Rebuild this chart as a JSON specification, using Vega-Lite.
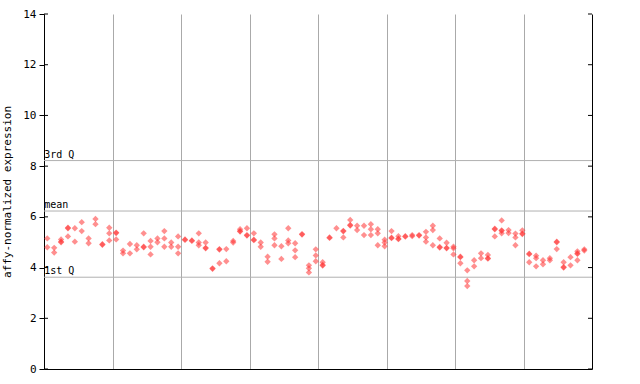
{
  "$schema": "https://vega.github.io/schema/vega-lite/v6.json",
  "width": 548,
  "height": 355,
  "autosize": {"type": "none"},
  "padding": {"left": 44, "top": 14, "right": 48, "bottom": 15},
  "background": "white",
  "config": {
    "view": {"stroke": null},
    "font": "DejaVu Sans Mono",
    "axis": {"labelFont": "DejaVu Sans Mono", "titleFont": "DejaVu Sans Mono"}
  },
  "datasets": {
    "pts": [
      {"i":1,"v":5.15},{"i":1,"v":4.80},
      {"i":2,"v":4.78},{"i":2,"v":4.59},
      {"i":3,"v":5.11},{"i":3,"v":5.02},{"i":3,"v":5.00},
      {"i":4,"v":5.57},{"i":4,"v":5.55},{"i":4,"v":5.23},
      {"i":5,"v":5.55},{"i":5,"v":5.02},
      {"i":6,"v":5.79},{"i":6,"v":5.44},
      {"i":7,"v":5.15},{"i":7,"v":4.96},
      {"i":8,"v":5.92},{"i":8,"v":5.71},
      {"i":9,"v":4.92},{"i":9,"v":4.90},
      {"i":10,"v":5.57},{"i":10,"v":5.35},{"i":10,"v":5.07},
      {"i":11,"v":5.38},{"i":11,"v":5.36},{"i":11,"v":5.11},
      {"i":12,"v":4.67},{"i":12,"v":4.56},
      {"i":13,"v":4.93},{"i":13,"v":4.56},
      {"i":14,"v":4.88},{"i":14,"v":4.72},
      {"i":15,"v":5.35},{"i":15,"v":4.82},{"i":15,"v":4.80},
      {"i":16,"v":5.05},{"i":16,"v":4.82},{"i":16,"v":4.52},
      {"i":17,"v":5.15},{"i":17,"v":5.00},
      {"i":18,"v":5.44},{"i":18,"v":5.15},{"i":18,"v":4.82},
      {"i":19,"v":4.99},{"i":19,"v":4.82},
      {"i":20,"v":5.23},{"i":20,"v":4.82},{"i":20,"v":4.56},
      {"i":21,"v":5.11},{"i":21,"v":5.09},
      {"i":22,"v":5.07},{"i":22,"v":5.05},
      {"i":23,"v":5.35},{"i":23,"v":4.99},{"i":23,"v":4.88},
      {"i":24,"v":4.99},{"i":24,"v":4.78},{"i":24,"v":4.76},
      {"i":25,"v":3.97},{"i":25,"v":3.95},
      {"i":26,"v":4.73},{"i":26,"v":4.71},{"i":26,"v":4.17},
      {"i":27,"v":4.73},{"i":27,"v":4.25},
      {"i":28,"v":5.05},{"i":28,"v":4.99},
      {"i":29,"v":5.51},{"i":29,"v":5.44},{"i":29,"v":5.42},
      {"i":30,"v":5.55},{"i":30,"v":5.28},{"i":30,"v":5.26},
      {"i":31,"v":5.35},{"i":31,"v":5.10},{"i":31,"v":5.08},
      {"i":32,"v":4.99},{"i":32,"v":4.82},
      {"i":33,"v":4.43},{"i":33,"v":4.23},
      {"i":34,"v":5.31},{"i":34,"v":5.15},{"i":34,"v":4.88},
      {"i":35,"v":4.84},{"i":35,"v":4.34},
      {"i":36,"v":5.55},{"i":36,"v":5.07},{"i":36,"v":4.96},
      {"i":37,"v":4.96},{"i":37,"v":4.68},{"i":37,"v":4.41},
      {"i":38,"v":5.32},{"i":38,"v":5.30},
      {"i":39,"v":4.09},{"i":39,"v":3.97},{"i":39,"v":3.81},
      {"i":40,"v":4.72},{"i":40,"v":4.48},{"i":40,"v":4.25},
      {"i":41,"v":4.21},{"i":41,"v":4.10},{"i":41,"v":4.08},
      {"i":42,"v":5.19},{"i":42,"v":5.17},
      {"i":43,"v":5.55},
      {"i":44,"v":5.45},{"i":44,"v":5.43},{"i":44,"v":5.19},
      {"i":45,"v":5.88},{"i":45,"v":5.68},{"i":45,"v":5.66},
      {"i":46,"v":5.65},{"i":46,"v":5.48},
      {"i":47,"v":5.65},{"i":47,"v":5.28},
      {"i":48,"v":5.71},{"i":48,"v":5.51},{"i":48,"v":5.28},
      {"i":49,"v":5.51},{"i":49,"v":5.35},{"i":49,"v":4.88},
      {"i":50,"v":5.10},{"i":50,"v":4.99},{"i":50,"v":4.84},
      {"i":51,"v":5.44},{"i":51,"v":5.18},{"i":51,"v":5.16},
      {"i":52,"v":5.24},{"i":52,"v":5.14},{"i":52,"v":5.12},
      {"i":53,"v":5.24},{"i":53,"v":5.22},
      {"i":54,"v":5.28},{"i":54,"v":5.24},
      {"i":55,"v":5.28},{"i":55,"v":5.26},
      {"i":56,"v":5.41},{"i":56,"v":5.19},{"i":56,"v":5.02},
      {"i":57,"v":5.65},{"i":57,"v":5.48},{"i":57,"v":4.88},
      {"i":58,"v":5.15},{"i":58,"v":4.81},{"i":58,"v":4.79},
      {"i":59,"v":4.98},{"i":59,"v":4.78},{"i":59,"v":4.76},
      {"i":60,"v":4.82},{"i":60,"v":4.76},{"i":60,"v":4.52},
      {"i":61,"v":4.43},{"i":61,"v":4.41},{"i":61,"v":4.17},
      {"i":62,"v":3.89},{"i":62,"v":3.47},{"i":62,"v":3.27},
      {"i":63,"v":4.29},{"i":63,"v":4.05},
      {"i":64,"v":4.56},{"i":64,"v":4.37},
      {"i":65,"v":4.50},{"i":65,"v":4.37},{"i":65,"v":4.35},
      {"i":66,"v":5.53},{"i":66,"v":5.51},{"i":66,"v":5.23},
      {"i":67,"v":5.86},{"i":67,"v":5.47},{"i":67,"v":5.45},{"i":67,"v":5.35},
      {"i":68,"v":5.48},{"i":68,"v":5.36},
      {"i":69,"v":5.34},{"i":69,"v":5.19},{"i":69,"v":4.88},
      {"i":70,"v":5.47},{"i":70,"v":5.34},{"i":70,"v":5.32},
      {"i":71,"v":4.55},{"i":71,"v":4.53},{"i":71,"v":4.21},
      {"i":72,"v":4.47},{"i":72,"v":4.37},{"i":72,"v":4.05},
      {"i":73,"v":4.29},{"i":73,"v":4.13},
      {"i":74,"v":4.37},{"i":74,"v":4.29},
      {"i":75,"v":5.02},{"i":75,"v":5.00},{"i":75,"v":4.73},
      {"i":76,"v":4.21},{"i":76,"v":4.02},{"i":76,"v":4.00},
      {"i":77,"v":4.41},{"i":77,"v":4.09},
      {"i":78,"v":4.64},{"i":78,"v":4.56},{"i":78,"v":4.54},{"i":78,"v":4.29},
      {"i":79,"v":4.72},{"i":79,"v":4.67}
    ],
    "stats": [
      {"label":"3rd Q","v":8.22},
      {"label":"mean","v":6.23},
      {"label":"1st Q","v":3.62}
    ],
    "yticks": [
      {"t":0},{"t":2},{"t":4},{"t":6},{"t":8},{"t":10},{"t":12},{"t":14}
    ]
  },
  "layer": [
    {
      "data": {"name": "stats"},
      "mark": {"type": "rule", "color": "#b0b0b0", "strokeWidth": 1},
      "encoding": {
        "y": {"field": "v", "type": "quantitative", "scale": {"domain": [0, 14], "nice": false}, "axis": null}
      }
    },
    {
      "data": {"name": "stats"},
      "mark": {"type": "text", "align": "left", "baseline": "bottom", "dy": -1, "fontSize": 10, "font": "DejaVu Sans Mono", "color": "#000000"},
      "encoding": {
        "x": {"datum": 0.55, "type": "quantitative"},
        "y": {"field": "v", "type": "quantitative", "axis": null},
        "text": {"field": "label"}
      }
    },
    {
      "data": {"name": "yticks"},
      "mark": {"type": "tick", "orient": "horizontal", "color": "#000000", "size": 4, "thickness": 1, "opacity": 1},
      "encoding": {
        "x": {"datum": 0.81, "type": "quantitative"},
        "y": {"field": "t", "type": "quantitative", "axis": null}
      }
    },
    {
      "data": {"name": "yticks"},
      "mark": {"type": "tick", "orient": "horizontal", "color": "#000000", "size": 4, "thickness": 1, "opacity": 1},
      "encoding": {
        "x": {"datum": 79.83, "type": "quantitative"},
        "y": {"field": "t", "type": "quantitative", "axis": null}
      }
    },
    {
      "data": {"name": "pts"},
      "mark": {"type": "point", "shape": "diamond", "filled": true, "size": 40, "color": "#ff3333", "opacity": 0.55, "strokeWidth": 0},
      "encoding": {
        "x": {
          "field": "i", "type": "quantitative",
          "scale": {"domain": [0.52, 80.12], "nice": false, "zero": false},
          "axis": {
            "title": null, "labels": false, "ticks": false,
            "values": [10.54, 20.42, 30.44, 40.32, 50.34, 60.22, 70.25],
            "grid": true, "gridColor": "#aaaaaa", "gridOpacity": 1, "gridWidth": 1,
            "domainColor": "#000000", "domainWidth": 1
          }
        },
        "y": {
          "field": "v", "type": "quantitative",
          "scale": {"domain": [0, 14], "nice": false},
          "axis": {
            "orient": "left",
            "title": "affy-normalized expression",
            "titleFontSize": 11, "titleFontWeight": "normal", "titleColor": "#000000",
            "titleX": -32, "titlePadding": 8,
            "values": [0, 2, 4, 6, 8, 10, 12, 14],
            "labelFontSize": 11, "labelColor": "#000000", "labelPadding": 3,
            "tickSize": 5, "tickColor": "#000000", "grid": false,
            "domainColor": "#000000", "domainWidth": 1
          }
        }
      }
    },
    {
      "data": {"name": "pts"},
      "mark": {"type": "point", "opacity": 0},
      "encoding": {
        "y": {
          "field": "v", "type": "quantitative",
          "scale": {"domain": [0, 14], "nice": false},
          "axis": {
            "orient": "right", "title": null, "labels": false, "ticks": false,
            "grid": false,
            "domainColor": "#000000", "domainWidth": 1
          }
        }
      }
    }
  ],
  "resolve": {"scale": {"y": "shared"}, "axis": {"y": "independent"}}
}
